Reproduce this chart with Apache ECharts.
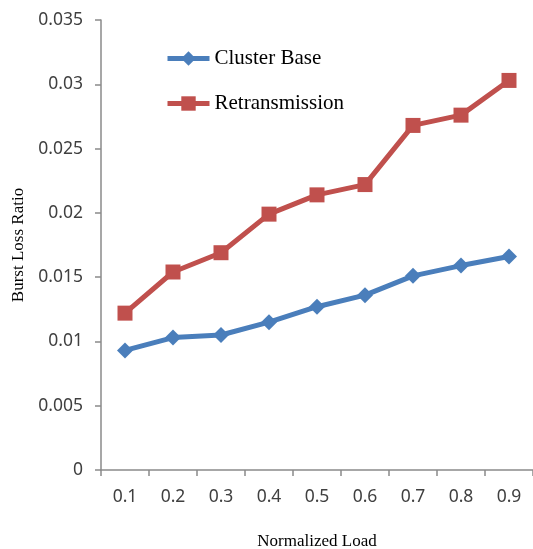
<!DOCTYPE html>
<html>
<head>
<meta charset="utf-8">
<script src="https://cdn.jsdelivr.net/npm/echarts@6/dist/echarts.min.js"></script>
<style>html,body{margin:0;padding:0;background:#fff}#c{width:533px;height:549px}</style>
</head>
<body>
<div id="c"></div>
<script>
var categories = ['0.1','0.2','0.3','0.4','0.5','0.6','0.7','0.8','0.9'];
var clusterBase = [0.0093, 0.0103, 0.0105, 0.0115, 0.0127, 0.0136, 0.0151, 0.0159, 0.0166];
var retransmission = [0.0122, 0.0154, 0.0169, 0.0199, 0.0214, 0.0222, 0.0268, 0.0276, 0.0303];
var yTicks = {min: 0, max: 0.035, interval: 0.005};

var chart = echarts.init(document.getElementById('c'), null, {renderer: 'canvas'});
var axisColor = '#8a8a8a';
var labelFont = {color: '#404040', fontSize: 17.5, fontFamily: 'Noto Sans'};
chart.setOption({
  animation: false,
  backgroundColor: '#ffffff',
  grid: {left: 101, top: 20, right: 0, bottom: 79, containLabel: false, outerBoundsMode: 'none'},
  legend: {
    orient: 'vertical', left: 160, top: 43, itemGap: 24,
    itemWidth: 42, itemHeight: 18,
    lineStyle: {width: 5},
    textStyle: {fontFamily: 'Liberation Serif', fontSize: 21, color: '#000'},
    data: ['Cluster Base', 'Retransmission']
  },
  xAxis: {
    type: 'category', data: categories, boundaryGap: true,
    name: 'Normalized Load', nameLocation: 'middle', nameGap: 63,
    nameTextStyle: {fontFamily: 'Liberation Serif', fontSize: 17, color: '#000'},
    axisLine: {lineStyle: {color: axisColor, width: 1.5}},
    axisTick: {show: true, length: 6, lineStyle: {color: axisColor, width: 1.5}, alignWithLabel: false},
    axisLabel: Object.assign({margin: 18}, labelFont),
    splitLine: {show: false}
  },
  yAxis: {
    type: 'value', min: yTicks.min, max: yTicks.max, interval: yTicks.interval,
    name: 'Burst Loss Ratio', nameLocation: 'middle', nameGap: 74, nameRotate: 90,
    nameTextStyle: {fontFamily: 'Liberation Serif', fontSize: 17, color: '#000'},
    axisLine: {show: true, lineStyle: {color: axisColor, width: 1.5}},
    axisTick: {show: true, length: 6, lineStyle: {color: axisColor, width: 1.5}},
    axisLabel: Object.assign({margin: 18, formatter: function(v){return String(+v.toFixed(3));}}, labelFont),
    splitLine: {show: false}
  },
  series: [
    {name: 'Cluster Base', type: 'line', data: clusterBase, symbol: 'diamond', symbolSize: 16,
     lineStyle: {color: '#4a7ebb', width: 5}, itemStyle: {color: '#4a7ebb'}},
    {name: 'Retransmission', type: 'line', data: retransmission, symbol: 'rect', symbolSize: 15,
     lineStyle: {color: '#c0504d', width: 5}, itemStyle: {color: '#c0504d'}}
  ]
});
</script>
</body>
</html>
